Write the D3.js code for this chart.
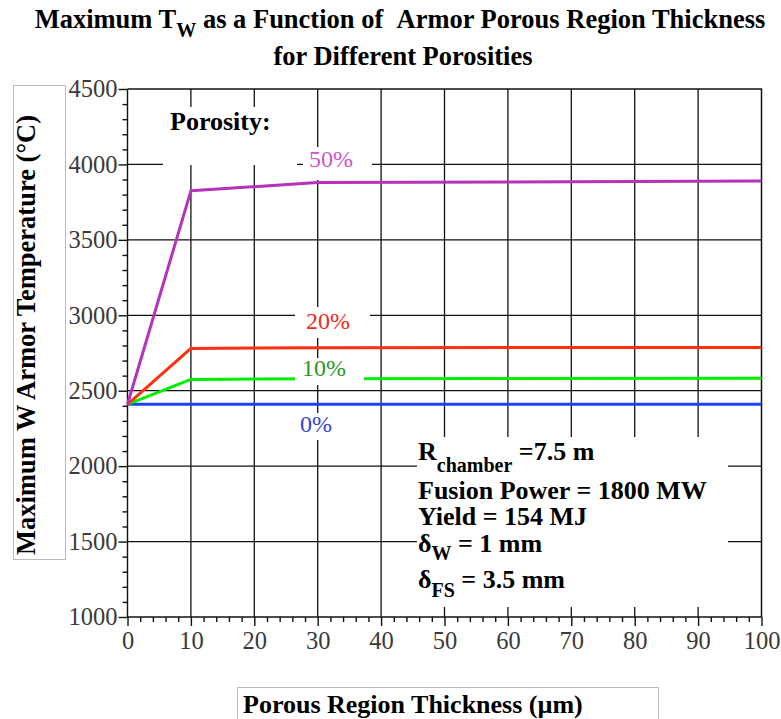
<!DOCTYPE html>
<html>
<head>
<meta charset="utf-8">
<script src="https://cdn.jsdelivr.net/npm/d3@7"></script>
<style>
  body { margin: 0; background: #fff; }
  text { font-family: "Liberation Serif", "Times New Roman", serif; }
</style>
</head>
<body>
<div id="chart"></div>
<script>
// thickness values (um) where each curve was computed
const thickness = [0, 10, 30, 100]
const porosities = ["0%", "10%", "20%", "50%"]
const tw0 = [2410, 2410, 2410, 2410]
const tw10 = [2410, 2575, 2580, 2582]
const tw20 = [2410, 2780, 2785, 2787]
const tw50 = [2410, 3825, 3880, 3890]
const xTicks = [0, 10, 20, 30, 40, 50, 60, 70, 80, 90, 100]
const yTicks = [1000, 1500, 2000, 2500, 3000, 3500, 4000, 4500]

const width = 781, height = 719
const pLeft = 127.5, pRight = 761.5, pTop = 89, pBottom = 617
const serif = '"Liberation Serif", "Times New Roman", serif'

const svg = d3.select("#chart").append("svg")
    .attr("width", width).attr("height", height)

const x = d3.scaleLinear().domain([0, 100]).range([pLeft, pRight])
const y = d3.scaleLinear().domain([1000, 4500]).range([pBottom, pTop])

// grid
const grid = svg.append("g").attr("stroke", "#111").attr("stroke-width", 1.3)
grid.selectAll(".vg").data(xTicks.slice(1, -1)).enter().append("line")
    .attr("x1", d => x(d)).attr("x2", d => x(d))
    .attr("y1", pTop).attr("y2", pBottom)
grid.selectAll(".hg").data(yTicks.slice(1, -1)).enter().append("line")
    .attr("x1", pLeft).attr("x2", pRight)
    .attr("y1", d => y(d)).attr("y2", d => y(d))

// axes
const xAxis = d3.axisBottom(x).tickValues(xTicks).tickSize(9).tickPadding(4).tickFormat(d3.format("d"))
const yAxis = d3.axisLeft(y).tickValues(yTicks).tickSize(9).tickPadding(1).tickFormat(d3.format("d"))

const xMinor = d3.range(0, 101, 2).filter(d => d % 10 !== 0)
const yMinor = d3.range(1000, 4501, 100).filter(d => d % 500 !== 0)

svg.append("g").attr("transform", `translate(0,${pBottom})`)
    .call(d3.axisBottom(x).tickValues(xMinor).tickSize(5).tickFormat(""))
    .call(g => g.select(".domain").remove())
svg.append("g").attr("transform", `translate(${pLeft},0)`)
    .call(d3.axisLeft(y).tickValues(yMinor).tickSize(5).tickFormat(""))
    .call(g => g.select(".domain").remove())

const gx = svg.append("g").attr("transform", `translate(0,${pBottom})`).call(xAxis)
const gy = svg.append("g").attr("transform", `translate(${pLeft},0)`).call(yAxis)
svg.selectAll(".tick line, .domain").attr("stroke", "#111").attr("stroke-width", 1.4)
gx.select(".domain").attr("d", `M${pLeft},0H${pRight}`)
gy.select(".domain").attr("d", `M0,${pTop}V${pBottom}`)
gx.selectAll("text").style("font-family", serif).style("font-size", "24.5px")
    .attr("fill", "#3a3a3a").attr("dy", "0.76em")
gy.selectAll("text").style("font-family", serif).style("font-size", "24.5px")
    .attr("fill", "#3a3a3a")

// frame top and right
svg.append("path")
    .attr("d", `M${pLeft},${pTop}H${pRight}V${pBottom}`)
    .attr("fill", "none").attr("stroke", "#111").attr("stroke-width", 1.5)

// curves
const series = [
  {name: "0%", vals: tw0, color: "#2040ff"},
  {name: "10%", vals: tw10, color: "#00ee00"},
  {name: "20%", vals: tw20, color: "#ff3010"},
  {name: "50%", vals: tw50, color: "#b533bb"}
]
const line = d3.line().x((d, i) => x(thickness[i])).y(d => y(d))
svg.append("g").selectAll("path").data(series).enter().append("path")
    .attr("d", d => line(d.vals))
    .attr("fill", "none").attr("stroke", d => d.color)
    .attr("stroke-width", 3).attr("stroke-linejoin", "round")

// white boxes behind labels
const boxes = [
  [163, 107, 134, 58],
  [303, 147, 69, 33],
  [295, 307, 75, 31],
  [295, 358, 69, 27],
  [295, 413, 48, 27],
  [417, 437, 311, 170]
]
svg.append("g").selectAll("rect").data(boxes).enter().append("rect")
    .attr("x", d => d[0]).attr("y", d => d[1])
    .attr("width", d => d[2]).attr("height", d => d[3])
    .attr("fill", "#fff")

// series labels
const labelPos = [
  {t: porosities[3], x: 309, y: 167, c: "#cc55cc"},
  {t: porosities[2], x: 306, y: 329, c: "#ee2b1c"},
  {t: porosities[1], x: 302, y: 376, c: "#2a962a"},
  {t: porosities[0], x: 300, y: 432, c: "#3344cc"}
]
svg.append("g").selectAll("text").data(labelPos).enter().append("text")
    .attr("x", d => d.x).attr("y", d => d.y)
    .attr("font-size", 24).attr("fill", d => d.c).text(d => d.t)

svg.append("text").attr("x", 170).attr("y", 130)
    .attr("font-size", 26).attr("font-weight", "bold").text("Porosity:")

// parameter block
const note = svg.append("g").attr("font-size", 26).attr("font-weight", "bold")
let t = note.append("text").attr("x", 418).attr("y", 460)
t.append("tspan").text("R")
t.append("tspan").attr("font-size", 20).attr("dy", 12).text("chamber")
t.append("tspan").attr("dy", -12).text(" =7.5 m")
note.append("text").attr("x", 418).attr("y", 499).text("Fusion Power = 1800 MW")
note.append("text").attr("x", 418).attr("y", 525).text("Yield = 154 MJ")
t = note.append("text").attr("x", 418).attr("y", 552)
t.append("tspan").text("δ")
t.append("tspan").attr("font-size", 20).attr("dy", 8).text("W")
t.append("tspan").attr("dy", -8).text(" = 1 mm")
t = note.append("text").attr("x", 418).attr("y", 588)
t.append("tspan").text("δ")
t.append("tspan").attr("font-size", 20).attr("dy", 9).text("FS")
t.append("tspan").attr("dy", -9).text(" = 3.5 mm")

// title
const title = svg.append("text").attr("x", 400).attr("y", 28)
    .attr("text-anchor", "middle").attr("font-size", 26.5).attr("font-weight", "bold")
title.append("tspan").text("Maximum T")
title.append("tspan").attr("font-size", 20).attr("dy", 9).text("W")
title.append("tspan").attr("dy", -9).text(" as a Function of \u00a0Armor Porous Region Thickness")
svg.append("text").attr("x", 403).attr("y", 65)
    .attr("text-anchor", "middle").attr("font-size", 26.5).attr("font-weight", "bold")
    .text("for Different Porosities")

// axis titles with boxes
svg.append("rect").attr("x", 13.5).attr("y", 85.5).attr("width", 52).attr("height", 474)
    .attr("fill", "none").attr("stroke", "#bbb")
svg.append("text").attr("transform", "translate(35,555) rotate(-90)")
    .attr("font-size", 26.5).attr("font-weight", "bold")
    .text("Maximum W Armor Temperature (°C)")

svg.append("rect").attr("x", 237.5).attr("y", 687.5).attr("width", 421).attr("height", 40)
    .attr("fill", "none").attr("stroke", "#bbb")
svg.append("text").attr("x", 243).attr("y", 713)
    .attr("font-size", 26).attr("font-weight", "bold")
    .text("Porous Region Thickness (µm)")
</script>
</body>
</html>
